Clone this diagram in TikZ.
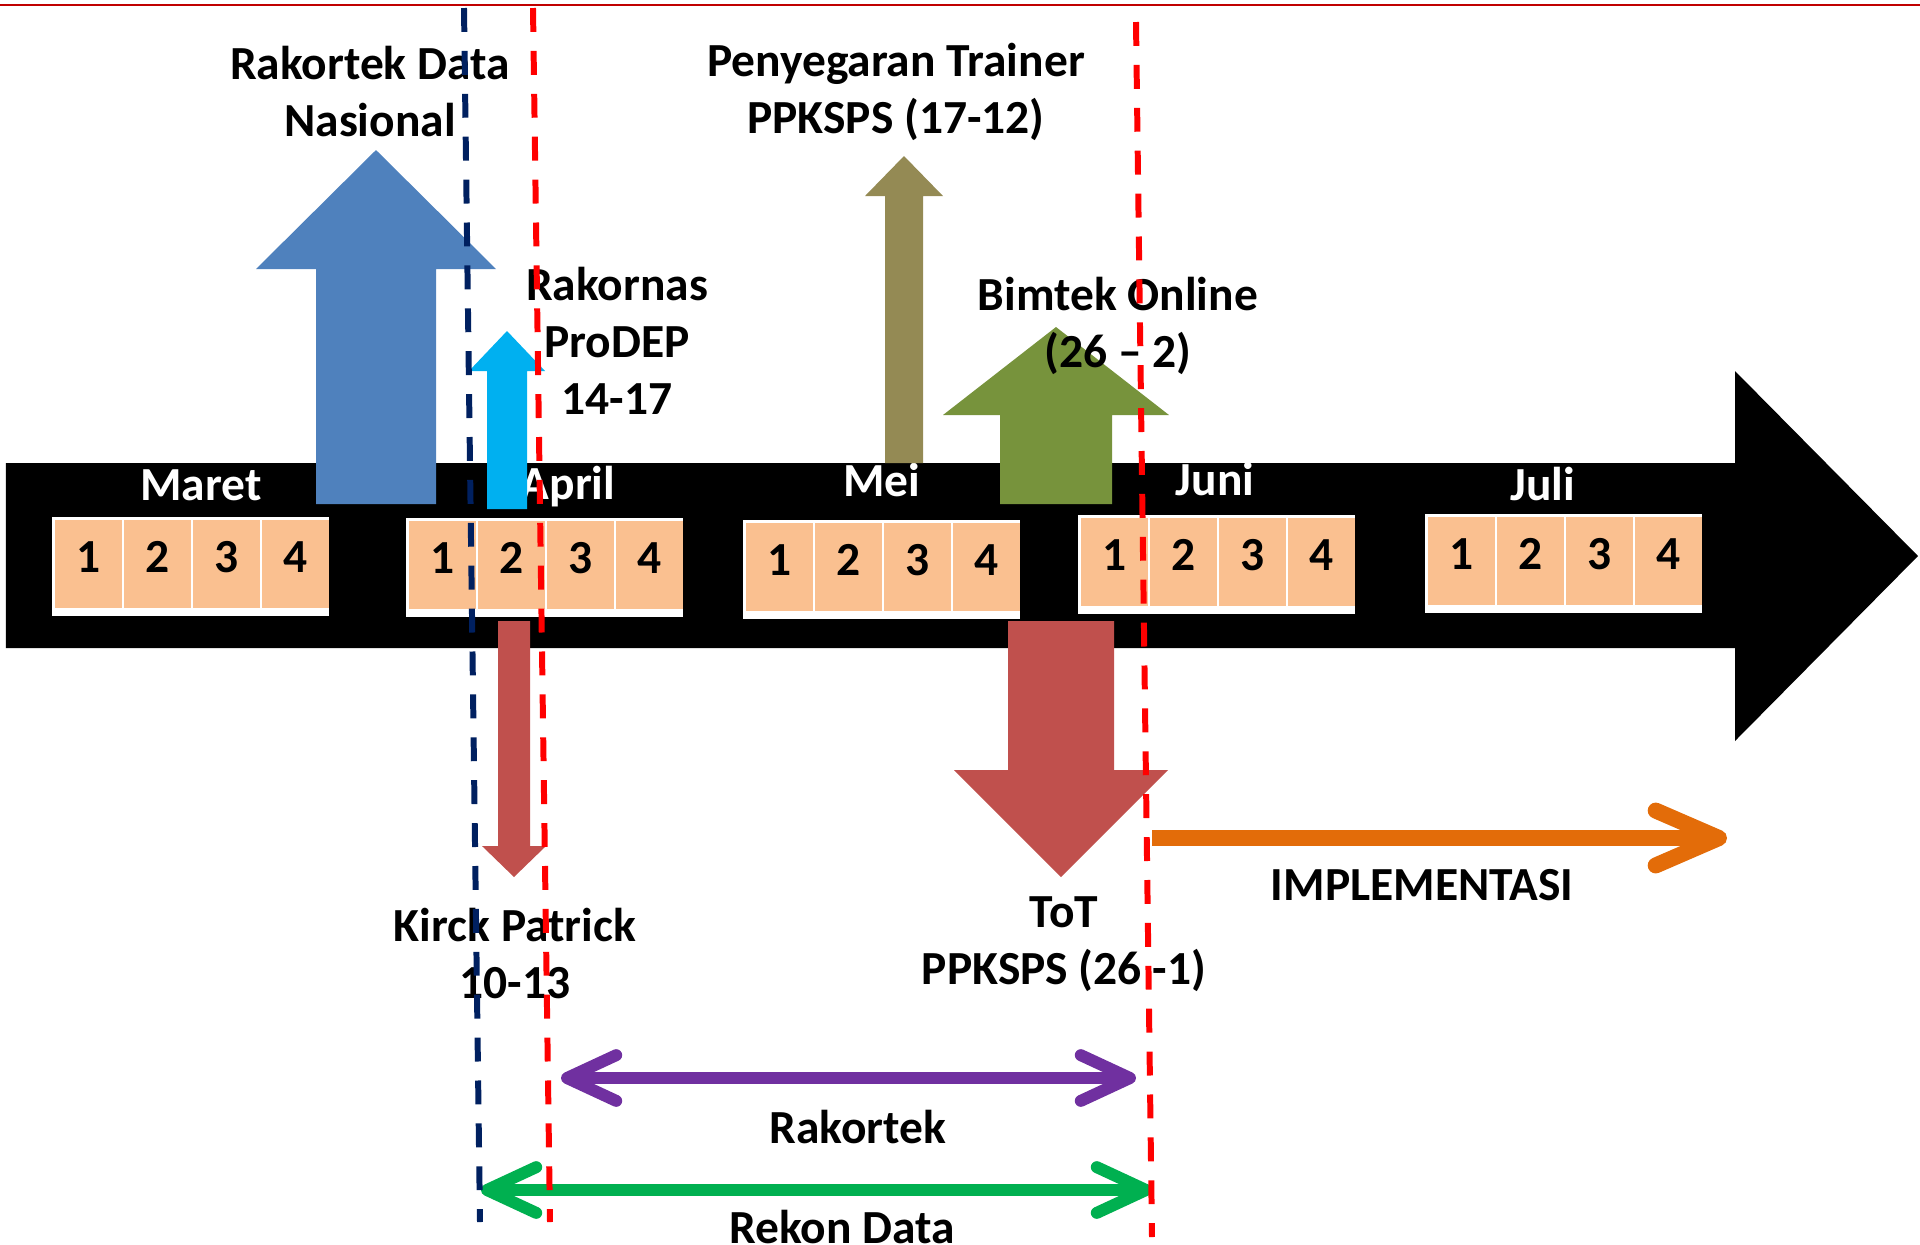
\documentclass[tikz,border=0pt]{standalone}
\usepackage{fontspec}
\setmainfont{Carlito}
\usetikzlibrary{arrows.meta}
\definecolor{blockblue}{HTML}{4F81BD}
\definecolor{blockcyan}{HTML}{00B0F0}
\definecolor{blockolive}{HTML}{948A54}
\definecolor{blockgreen}{HTML}{77933C}
\definecolor{blockred}{HTML}{C0504D}
\definecolor{weekfill}{HTML}{FAC090}
\definecolor{navyline}{HTML}{002060}
\definecolor{topline}{HTML}{C00000}
\definecolor{spanpurple}{HTML}{7030A0}
\definecolor{spangreen}{HTML}{00B050}
\definecolor{spanorange}{HTML}{E36C09}

\begin{document}
\begin{tikzpicture}[x=0.01cm, y=-0.01cm,
    lbl/.style={font=\fontsize{13.5}{16.2}\selectfont\bfseries, align=center, anchor=base, inner sep=0pt},
    month/.style={lbl, text=white},
    week/.style={fill=weekfill, anchor=north west, inner sep=0pt, minimum width=0.67cm, minimum height=0.88cm,
        font=\fontsize{13.5}{16.2}\selectfont\bfseries, text height=7.7pt, text depth=2.58pt},
    guide/.style={line width=1.7pt, dash pattern=on 6.8pt off 5.4pt},
    span/.style={line width=3.4pt, >={Straight Barb[length=14pt, width=13pt, line cap=round, line join=round]}, <->}]
                \useasboundingbox (0,0) rectangle (1920,1244);
                \draw [topline, line width=0.57pt] (0,5) -- (1920,5);

                \fill [black] (6,463) -- (1735,463) -- (1735,371) -- (1918,556) -- (1735,741) -- (1735,648) -- (6,648) -- cycle;

                \foreach \m/\gx/\gy/\lx/\ly in {Maret/52/517/201/500, April/406/518/568/499, Mei/743/520/882/496, Juni/1078/515/1215/495, Juli/1425/514/1543/500}{
                    \node [month] (\m) at (\lx,\ly) {\m};
                    \fill [white] (\gx,\gy) rectangle +(277,99);
                    \foreach \w in {1,...,4}
                        \node [week] (\m-\w) at ({\gx+2+(\w-1)*69},{\gy+2}) {\w};
                }

                \foreach \c/\x/\s/\h/\b/\hb/\t in {blockblue/376/60/120/504/269/150, blockcyan/507/20/38/509/371/331, blockolive/904/19/39/463/196/156, blockgreen/1056/56/113/504/415/327, blockred/514/16/32/621/846/877, blockred/1061/53/107/621/770/877}
                    \fill [\c] (\x-\s,\b) -- (\x-\s,\hb) -- (\x-\h,\hb) -- (\x,\t) -- (\x+\h,\hb) -- (\x+\s,\hb) -- (\x+\s,\b) -- cycle;

                \node [lbl] (nasional) at (370,136) {Rakortek Data\\Nasional};
                \node [lbl] (trainer) at (896,133) {Penyegaran Trainer\\PPKSPS (17-12)};
                \node [lbl] (prodep) at (617,414) {Rakornas\\ProDEP\\14-17};
                \node [lbl] (bimtek) at (1118,367) {Bimtek Online\\(26 – 2)};
                \node [lbl] (kirck) at (515,998) {Kirck Patrick\\10-13};
                \node [lbl] (tot) at (1064,984) {ToT\\PPKSPS (26 -1)};
                \node [lbl] (impl) at (1422,900) {IMPLEMENTASI};
                \node [lbl] (rakortek) at (858,1143) {Rakortek};
                \node [lbl] (rekon) at (842,1243) {Rekon Data};

                \coordinate (rakortek-from) at (561,1078);
                \coordinate (rakortek-to) at (1136,1078);
                \coordinate (rekon-from) at (481,1190);
                \coordinate (rekon-to) at (1152,1190);
                \coordinate (impl-from) at (1152,838);
                \coordinate (impl-to) at (1727,838);

                \draw [span, spanpurple] (rakortek-from) -- (rakortek-to);
                \draw [span, spangreen] (rekon-from) -- (rekon-to);
                \draw [spanorange, line width=4.55pt, -{Straight Barb[length=18pt, width=15.6pt, line cap=round, line join=round]}] (impl-from) -- (impl-to);

                \draw [guide, navyline] (464,8) -- (480,1222);
                \draw [guide, red] (533,8) -- (550,1222);
                \draw [guide, red] (1136,22) -- (1152,1237);
            \end{tikzpicture}
\end{document}
